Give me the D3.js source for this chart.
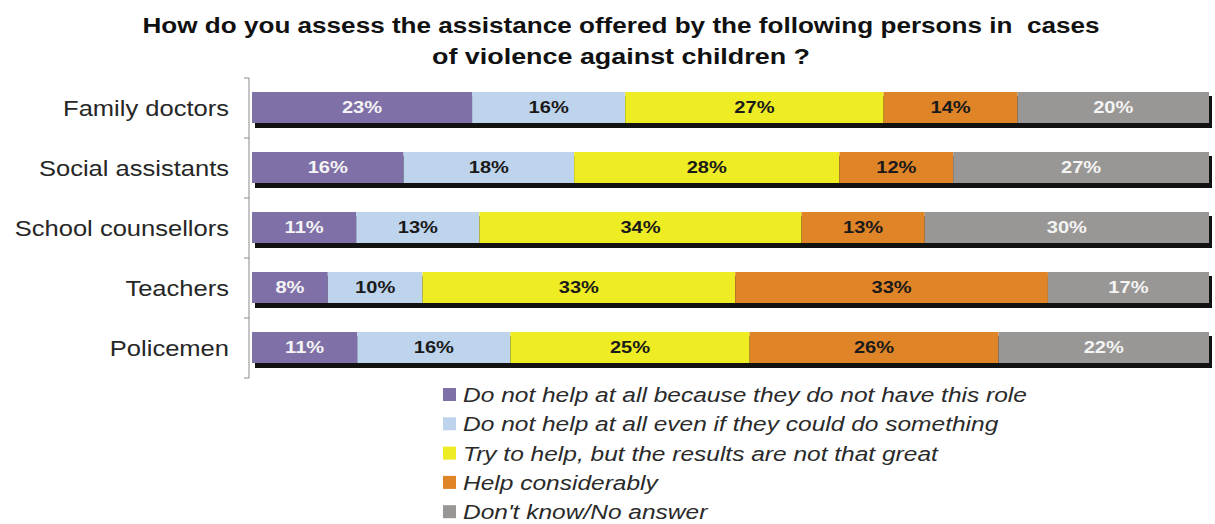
<!DOCTYPE html>
<html>
<head>
<meta charset="utf-8">
<script src="https://cdn.jsdelivr.net/npm/d3@7"></script>
<style>
  html, body { margin: 0; padding: 0; background: #fff; }
  svg text { font-family: "Liberation Sans", Arial, sans-serif; white-space: pre; }
</style>
</head>
<body>
<svg id="chart" width="1215" height="524"></svg>
<script>
const titleLines = ["How do you assess the assistance offered by the following persons in  cases", "of violence against children ?"];
const categories = ["Family doctors", "Social assistants", "School counsellors", "Teachers", "Policemen"];
const seriesNames = [
  "Do not help at all because they do not have this role",
  "Do not help at all even if they could do something",
  "Try to help, but the results are not that great",
  "Help considerably",
  "Don't know/No answer"
];
const notHelpNoRole   = [23, 16, 11, 8, 11];
const notHelpCould    = [16, 18, 13, 10, 16];
const tryToHelp       = [27, 28, 34, 33, 25];
const helpConsiderably= [14, 12, 13, 33, 26];
const dontKnow        = [20, 27, 30, 17, 22];
const seriesValues = [notHelpNoRole, notHelpCould, tryToHelp, helpConsiderably, dontKnow];
const colors = ["#8070a8", "#bed4ec", "#eeec22", "#e08428", "#999795"];
const labelColors = ["#f4f4f4", "#1a1a1a", "#1a1a1a", "#1a1a1a", "#f4f4f4"];

const svg = d3.select("#chart");

function stretch(sel, k, anchor, x) {
  sel.each(function() {
    const t = d3.select(this);
    const w = this.getComputedTextLength();
    const tw = w * k;
    t.attr("textLength", tw).attr("lengthAdjust", "spacingAndGlyphs").attr("text-anchor", "start");
    let xx = x;
    if (anchor === "end") xx = x - tw;
    else if (anchor === "middle") xx = x - tw / 2;
    t.attr("x", xx);
  });
}

// Title
const titleWidths = [957, 378];
titleLines.forEach((line, i) => {
  const t = svg.append("text")
    .attr("y", 33 + i * 31)
    .attr("font-size", 22)
    .attr("font-weight", "bold")
    .attr("fill", "#111")
    .text(line);
  const w = t.node().getComputedTextLength();
  stretch(t, titleWidths[i] / w, "middle", 621);
});

// Scales
const x0 = 252, x1 = 1209;
const y = d3.scaleBand().domain(categories).range([78, 378]).paddingInner(0).paddingOuter(0);
const x = d3.scaleLinear().domain([0, 1]).range([x0, x1]);

const rows = categories.map((c, i) => {
  const vals = seriesValues.map(s => s[i]);
  const total = d3.sum(vals);
  let acc = 0;
  return vals.map((v, j) => {
    const seg = { cat: c, j, v, start: acc / total, end: (acc + v) / total };
    acc += v;
    return seg;
  });
});

const barH = 31;
const shadow = 4;

// axis
const gAxis = svg.append("g").attr("transform", "translate(249,0)");
gAxis.append("line").attr("x1", 0).attr("x2", 0).attr("y1", 78).attr("y2", 378).attr("stroke", "#8a8a8a").attr("stroke-width", 1);
const tickYs = d3.range(categories.length + 1).map(i => y.range()[0] + i * y.step());
gAxis.selectAll("line.tick").data(tickYs).enter().append("line")
  .attr("class", "tick").attr("x1", -5).attr("x2", 0).attr("y1", d => d).attr("y2", d => d)
  .attr("stroke", "#8a8a8a");

// shadows
svg.append("g").selectAll("rect").data(categories).enter().append("rect")
  .attr("x", x(0) + shadow - 1)
  .attr("y", d => y(d) + y.bandwidth() / 2 - 16 + shadow)
  .attr("width", x(1) - x(0))
  .attr("height", barH + 1)
  .attr("fill", "#121212");

// segments
const gBars = svg.append("g");
rows.forEach(row => {
  gBars.selectAll(null).data(row).enter().append("rect")
    .attr("x", d => x(d.start))
    .attr("y", d => y(d.cat) + y.bandwidth() / 2 - 16)
    .attr("width", d => x(d.end) - x(d.start))
    .attr("height", barH)
    .attr("fill", d => colors[d.j]);
});

// value labels
const gLab = svg.append("g");
rows.forEach(row => {
  gLab.selectAll(null).data(row).enter().append("text")
    .attr("y", d => y(d.cat) + y.bandwidth() / 2 + 5)
    .attr("font-size", 17)
    .attr("font-weight", "bold")
    .attr("fill", d => labelColors[d.j])
    .text(d => d.v + "%")
    .each(function(d) { stretch(d3.select(this), 1.18, "middle", (x(d.start) + x(d.end)) / 2); });
});

// category labels
svg.append("g").selectAll("text").data(categories).enter().append("text")
  .attr("y", d => y(d) + y.bandwidth() / 2 + 8)
  .attr("font-size", 22)
  .attr("fill", "#262626")
  .text(d => d)
  .each(function(d) { stretch(d3.select(this), 1.16, "end", 229); });

// legend
const gLeg = svg.append("g");
seriesNames.forEach((name, i) => {
  const cy = 395 + i * 29.3;
  gLeg.append("rect").attr("x", 443).attr("y", cy - 7).attr("width", 13).attr("height", 13).attr("fill", colors[i]);
  const t = gLeg.append("text")
    .attr("y", cy + 7)
    .attr("font-size", 20)
    .attr("font-style", "italic")
    .attr("fill", "#2a2a2a")
    .text(name);
  stretch(t, 1.225, "start", 463);
});
</script>
</body>
</html>
